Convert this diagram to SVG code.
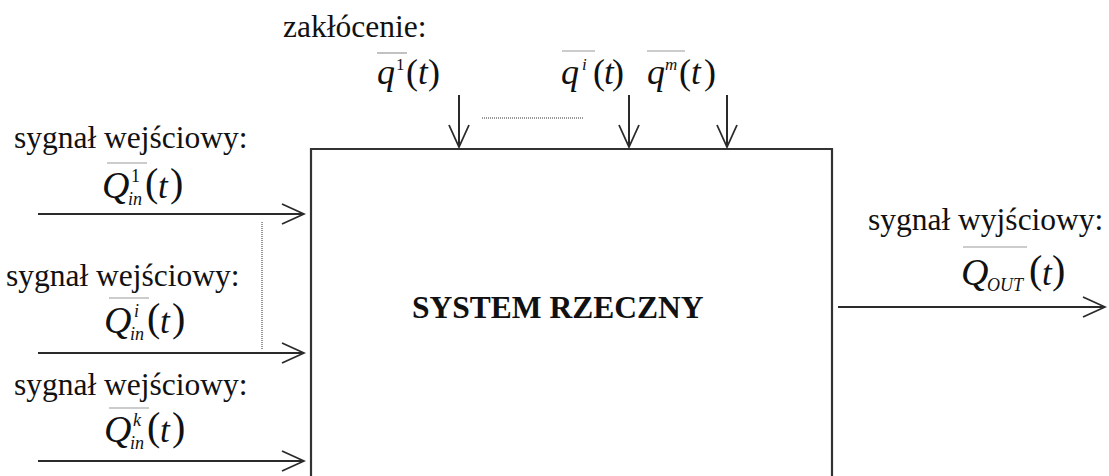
<svg xmlns="http://www.w3.org/2000/svg" width="1109" height="476" viewBox="0 0 1109 476">
<style>
.lbl{font-family:"Liberation Serif","Times New Roman",serif;font-size:31.5px;fill:#111}
.ttl{font-family:"Liberation Serif","Times New Roman",serif;font-size:31.5px;font-weight:bold;fill:#111}
.m{font-family:"Liberation Serif","Times New Roman",serif;fill:#111}
.it{font-style:italic}
.Q{font-size:38px;font-style:italic}
.q{font-size:36px;font-style:italic}
.par{font-size:40px}
.pars{font-size:36px}
.t{font-size:35px;font-style:italic}
.s{font-size:18px}
.ss{font-size:17px}
.ov{stroke:#999;stroke-width:1.2}
.wire{stroke:#2a2a2a;stroke-width:2;fill:none}
.dot{stroke:#333;stroke-width:1;stroke-dasharray:1 1;fill:none}
.box{stroke:#333;stroke-width:2.2;fill:#fff}
</style>
<defs>
<marker id="arr" markerUnits="userSpaceOnUse" markerWidth="26" markerHeight="26" viewBox="0 0 26 26" refX="24" refY="13" orient="auto">
<path d="M2,3 L24,13 L2,23" fill="none" stroke="#2a2a2a" stroke-width="1.8"/>
</marker>
</defs>
<rect width="1109" height="476" fill="#fff"/>

<g id="system">
<path class="box" d="M311,490 V149 H832 V490"/>
<text class="ttl" x="412" y="318">SYSTEM RZECZNY</text>
</g>

<g id="connectors">
<line class="wire" x1="38" y1="214" x2="304" y2="214" marker-end="url(#arr)"/>
<line class="wire" x1="38" y1="353" x2="304" y2="353" marker-end="url(#arr)"/>
<line class="wire" x1="38" y1="461" x2="304" y2="461" marker-end="url(#arr)"/>
<line class="wire" x1="838" y1="307" x2="1105" y2="307" marker-end="url(#arr)"/>
<line class="wire" x1="459" y1="95" x2="459" y2="147" marker-end="url(#arr)"/>
<line class="wire" x1="629" y1="95" x2="629" y2="147" marker-end="url(#arr)"/>
<line class="wire" x1="727" y1="95" x2="727" y2="147" marker-end="url(#arr)"/>
<line class="dot" x1="262" y1="222" x2="262" y2="350"/>
<line class="dot" x1="482" y1="118" x2="583" y2="118"/>
</g>

<g id="disturbance">
<text class="lbl" x="283" y="37">zakłócenie:</text>
</g>

<g id="q1">
<line class="ov" x1="377" y1="53" x2="407" y2="53"/>
<text class="m q" x="377" y="84">q</text>
<text class="m ss" x="396" y="70">1</text>
<text class="m pars" x="406" y="84">(</text>
<text class="m t" x="418" y="84">t</text>
<text class="m pars" x="428" y="84">)</text>
</g>

<g id="qi">
<line class="ov" x1="562" y1="51" x2="595" y2="51"/>
<text class="m q" x="561" y="84">q</text>
<text class="m ss it" x="582" y="70">i</text>
<text class="m pars" x="593" y="84">(</text>
<text class="m t" x="604" y="84">t</text>
<text class="m pars" x="612" y="84">)</text>
</g>

<g id="qm">
<line class="ov" x1="647" y1="51" x2="685" y2="51"/>
<text class="m q" x="647" y="84">q</text>
<text class="m ss it" x="665" y="70">m</text>
<text class="m pars" x="679" y="84">(</text>
<text class="m t" x="691" y="84">t</text>
<text class="m pars" x="704" y="84">)</text>
</g>

<g id="input-1">
<text class="lbl" x="14" y="148">sygnał wejściowy:</text>
<line class="ov" x1="107" y1="163" x2="147" y2="163"/>
<text class="m Q" x="102" y="198">Q</text>
<text class="m s" x="131" y="182">1</text>
<text class="m s it" x="128" y="205">in</text>
<text class="m par" x="145" y="196">(</text>
<text class="m t" x="158" y="198">t</text>
<text class="m par" x="170" y="196">)</text>
</g>

<g id="input-2">
<text class="lbl" x="6" y="286">sygnał wejściowy:</text>
<line class="ov" x1="109" y1="298" x2="149" y2="298"/>
<text class="m Q" x="104" y="333">Q</text>
<text class="m s it" x="134" y="317">i</text>
<text class="m s it" x="130" y="340">in</text>
<text class="m par" x="147" y="331">(</text>
<text class="m t" x="160" y="333">t</text>
<text class="m par" x="172" y="331">)</text>
</g>

<g id="input-3">
<text class="lbl" x="14" y="395">sygnał wejściowy:</text>
<line class="ov" x1="109" y1="408" x2="149" y2="408"/>
<text class="m Q" x="104" y="442">Q</text>
<text class="m s it" x="133" y="426">k</text>
<text class="m s it" x="130" y="449">in</text>
<text class="m par" x="147" y="440">(</text>
<text class="m t" x="160" y="442">t</text>
<text class="m par" x="172" y="440">)</text>
</g>

<g id="output">
<text class="lbl" x="868" y="230">sygnał wyjściowy:</text>
<line class="ov" x1="963" y1="247" x2="1027" y2="247"/>
<text class="m Q" x="961" y="285">Q</text>
<text class="m it" x="987" y="291" font-size="18">OUT</text>
<text class="m par" x="1029" y="283">(</text>
<text class="m t" x="1042" y="285">t</text>
<text class="m par" x="1052" y="283">)</text>
</g>
</svg>
